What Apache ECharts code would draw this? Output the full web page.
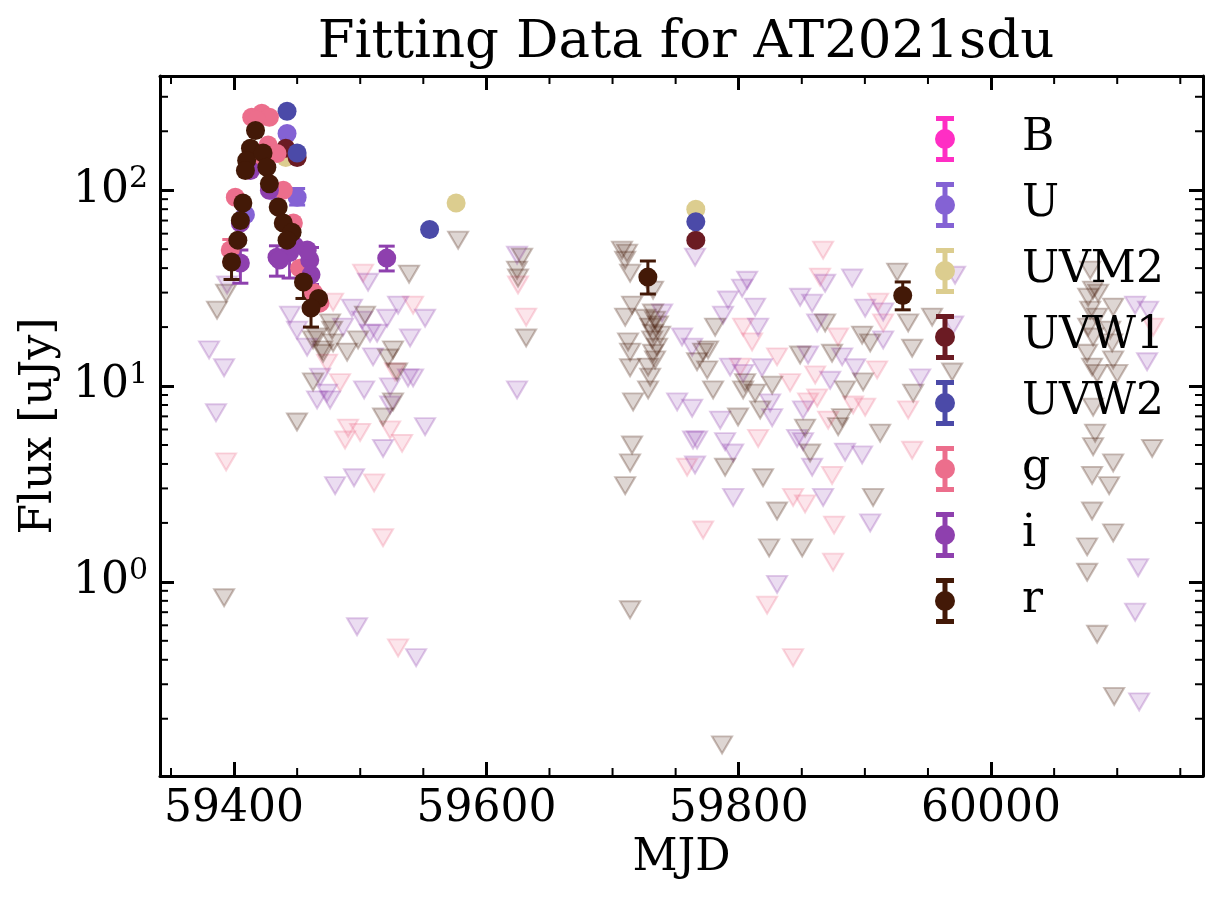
<!DOCTYPE html>
<html>
<head>
<meta charset="utf-8">
<title>Fitting Data for AT2021sdu</title>
<script src="https://cdn.jsdelivr.net/npm/echarts@6/dist/echarts.min.js"></script>
<style>
html, body { margin: 0; padding: 0; background: #fff; }
#main { width: 1224px; height: 904px; }
</style>
</head>
<body>
<div id="main"></div>
<script>
// axis ranges and tick values
var X_MIN = 59341.3, X_MAX = 60168;
var Y_MIN = 0.102, Y_MAX = 383;
var xMinorTicks = [59350, 59450, 59500, 59550, 59650, 59700, 59750, 59850, 59900, 59950, 60050, 60100, 60150];
var yMinorTicks = [0.2, 0.3, 0.4, 0.5, 0.6, 0.7, 0.8, 0.9, 2, 3, 4, 5, 6, 7, 8, 9,
                   20, 30, 40, 50, 60, 70, 80, 90, 200, 300];

var bandNames = ['B', 'U', 'UVM2', 'UVW1', 'UVW2', 'g', 'i', 'r'];

// detections [mjd, flux uJy]
var bDet = [];
var uDet = [[59442, 195], [59450, 92], [59430, 100], [59409, 75]];
var uvm2Det = [[59441, 147], [59576, 86], [59766, 80]];
var uvw1Det = [[59441, 164], [59450, 147], [59766, 55.6]];
var uvw2Det = [[59442, 253], [59450, 155], [59555, 63], [59766, 69]];
var gDet = [[59414, 236], [59422, 247], [59428, 236], [59418, 228], [59427, 170], [59434, 154],
            [59401, 92], [59439, 100], [59447, 68], [59397, 49.5], [59452, 40], [59468, 26.5],
            [59463, 30], [59420, 140]];
var iDet = [[59413, 126], [59405, 68], [59405, 42.5], [59428, 100], [59434, 45.5], [59460, 44],
            [59444, 48], [59461, 37], [59458, 49.5], [59521, 45], [59436, 44], [59448, 52]];
var rDet = [[59417, 202], [59413, 164], [59410, 142], [59409, 126], [59423, 155], [59426, 131],
            [59428, 108], [59407, 86], [59405, 70], [59403, 55.6], [59398, 43], [59435, 82],
            [59439, 68], [59446, 61], [59442, 55.6], [59455, 34], [59467, 28], [59461, 25],
            [59728, 36], [59930, 29]];

// error bars [mjd, low, high]
var bErr = [];
var uErr = [[59450, 84, 102]];
var uvm2Err = [];
var uvw1Err = [];
var uvw2Err = [];
var gErr = [[59397, 43, 56]];
var iErr = [[59405, 33.5, 49.5], [59434, 36.4, 52], [59444, 35.6, 55], [59461, 33, 51], [59521, 38.7, 51.8]];
var rErr = [[59398, 35, 50], [59455, 28, 40], [59461, 20, 32], [59728, 29.5, 43.5], [59930, 24.5, 34]];

// upper limits [mjd, flux uJy]
var gLim = [[59393.7, 4.1], [59478.5, 26.8], [59502.3, 37.7], [59541.9, 25.9], [59473.7, 13.1],
            [59484, 10.4], [59527.6, 11.8], [59490.4, 6.1], [59499.9, 5.8], [59488, 5.3],
            [59523.7, 5.97], [59533.2, 5.1], [59511, 3.2], [59518.1, 1.68], [59530, 0.46],
            [59625.1, 32.8], [59631.5, 22.5], [59866.9, 49.4], [59864.5, 36.0], [59803.5, 20.0],
            [59810.6, 16.8], [59878.8, 17.8], [59910.5, 26.8], [59914.5, 21.0], [59934.3, 7.55],
            [59937.5, 4.7], [59909.7, 12.1], [59890.7, 8.0], [59900.2, 7.8], [59870.9, 6.7],
            [59862.2, 8.7], [59855, 8.3], [59874, 3.5], [59860.6, 11.4], [59830.4, 14.1],
            [59840.7, 10.4], [59801.1, 12.5], [59815.4, 5.4], [59771.8, 1.84], [59843.1, 2.7],
            [59852.6, 2.5], [59875.6, 1.95], [59874.8, 1.26], [59822.5, 0.76], [59759.1, 3.85],
            [59843.1, 0.41], [60128.5, 20.0]];
var iLim = [[59380.2, 15.3], [59392.1, 12.4], [59385.7, 7.3], [59394.5, 32.8], [59444.4, 23.0],
            [59449.9, 19.3], [59457.9, 15.8], [59486.4, 20.0], [59493.5, 25.0], [59506.2, 33.9],
            [59507.8, 18.6], [59513.4, 18.6], [59501.5, 21.7], [59521.3, 22.2], [59530, 25.9],
            [59551.4, 22.2], [59539.5, 17.6], [59510.2, 14.1], [59468.2, 11.1], [59465.8, 8.5],
            [59476.1, 8.5], [59473.7, 9.2], [59503.1, 9.55], [59541.9, 11.0], [59537.9, 11.0],
            [59523.7, 9.9], [59523.7, 8.0], [59518.1, 4.8], [59551.4, 6.2], [59480.1, 3.1],
            [59495.1, 3.4], [59497.5, 0.59], [59544.3, 0.41], [59624.3, 46.6], [59624.3, 9.55],
            [59739.3, 23.6], [59755.1, 17.8], [59751.2, 8.3], [59763.1, 7.7], [59763.8, 5.3],
            [59765.4, 3.95], [59763.1, 15.8], [59765.4, 45.5], [59868.5, 33.5], [59889.9, 35.6],
            [59806.7, 34.7], [59802.7, 31.6], [59791.6, 27.5], [59813, 25.3], [59787.6, 23.0],
            [59815.4, 20.0], [59848.7, 28.4], [59858.2, 26.5], [59862.2, 21.0], [59900.2, 25.0],
            [59914.5, 23.9], [59914.5, 17.2], [59943.8, 11.0], [59892.3, 12.4], [59884.3, 4.6],
            [59897.8, 4.45], [59872.5, 10.7], [59851, 7.55], [59846.3, 5.4], [59851, 5.2],
            [59858.2, 3.85], [59855, 14.4], [59882, 14.1], [59793.2, 12.5], [59803.5, 11.6],
            [59818.5, 12.4], [59824.9, 8.2], [59826.5, 6.9], [59785.3, 6.7], [59767, 5.3],
            [59789.2, 5.2], [59795.6, 4.55], [59795.6, 2.7], [59866.9, 2.7], [59904.2, 2.0],
            [59830.4, 0.97], [59971.5, 36.8], [59970, 20.5], [60114.2, 25.9], [60124.5, 24.4],
            [60123.7, 13.3], [60116.6, 1.18], [60114.2, 0.70], [60117.4, 0.244]];
var rLim = [[59386.5, 24.4], [59393.7, 29.8], [59392.1, 0.83], [59449.9, 6.55], [59462.6, 17.2],
            [59469.8, 15.3], [59477.7, 19.3], [59478.5, 16.6], [59489.6, 14.9], [59498.3, 17.2],
            [59503.8, 23.0], [59538.7, 37.3], [59522.1, 13.9], [59526, 15.3], [59462.6, 10.5],
            [59529.2, 11.8], [59526, 8.3], [59518.1, 6.95], [59465.8, 17.8], [59470.6, 14.7],
            [59476.1, 21.0], [59577.6, 55.6], [59628.3, 45.5], [59624.3, 39.1], [59625.1, 35.6],
            [59631.5, 17.6], [59711.5, 47.7], [59710, 43.9], [59713.9, 37.7], [59715.5, 25.9],
            [59710, 22.5], [59712.3, 16.8], [59713.9, 14.9], [59713.9, 12.4], [59716.3, 8.3],
            [59715.5, 5.0], [59713.9, 4.05], [59710, 3.1], [59713.9, 0.72], [59732.1, 30.9],
            [59732.1, 23.6], [59733.7, 21.7], [59729.8, 20.0], [59732.1, 18.6], [59731.4, 17.2],
            [59735.3, 15.8], [59732.1, 14.7], [59733.7, 13.6], [59728.2, 12.5], [59729.8, 11.1],
            [59728.2, 9.55], [59726, 22.2], [59736, 20.5], [59737.7, 18.2], [59707.5, 49.4],
            [59781.3, 20.0], [59767, 13.3], [59771.8, 14.9], [59775.7, 15.3], [59775, 12.1],
            [59779.7, 9.55], [59789.2, 3.85], [59805.1, 10.4], [59803.5, 9.55], [59813, 9.2],
            [59799.5, 6.95], [59817, 7.55], [59826.5, 10.1], [59819.3, 3.4], [59830.4, 2.3],
            [59824.1, 1.49], [59850.3, 1.49], [59786.8, 0.147], [59848.7, 14.4], [59868.5, 21.0],
            [59874, 14.7], [59852.6, 6.1], [59856.6, 4.55], [59897.8, 18.2], [59904.2, 16.6],
            [59898.6, 10.5], [59884.3, 9.55], [59882, 6.9], [59878.8, 6.2], [59912.1, 5.75],
            [59906.5, 2.7], [59925.6, 38.2], [59934.3, 21.0], [59937.5, 15.6], [59953.3, 22.5],
            [59938.3, 9.2], [59969.2, 11.8], [60078.6, 39.1], [60080.9, 30.9], [60077, 28.4],
            [60078.6, 24.4], [60084.1, 22.5], [60077, 20.0], [60080.9, 17.8], [60076.2, 14.7],
            [60080.1, 12.5], [60084.1, 11.6], [60080.9, 7.8], [60094.4, 19.3], [60096, 16.6],
            [60096.8, 13.6], [60100, 11.6], [60096.8, 25.3], [60084.9, 29.8], [60082.5, 5.75],
            [60080.9, 4.9], [60096.8, 4.05], [60080.1, 3.5], [60093.6, 3.1], [60127.7, 4.8],
            [60080.1, 2.3], [60096.8, 1.78], [60076.2, 1.51], [60076.2, 1.12], [60084.1, 0.54],
            [60097.6, 0.26]];

var colors = {
    B: '#ff2ec4', U: '#8462d4', UVM2: '#dccd8f', UVW1: '#6b1b23',
    UVW2: '#4b4aa8', g: '#ec6e8c', i: '#8e40ae', r: '#431907'
};
var detByBand = { B: bDet, U: uDet, UVM2: uvm2Det, UVW1: uvw1Det, UVW2: uvw2Det, g: gDet, i: iDet, r: rDet };
var errByBand = { B: bErr, U: uErr, UVM2: uvm2Err, UVW1: uvw1Err, UVW2: uvw2Err, g: gErr, i: iErr, r: rErr };
var limByBand = { g: gLim, i: iLim, r: rLim };

var FONT = 'DejaVu Serif';

function rgba(hex, a) {
    var n = parseInt(hex.slice(1), 16);
    return 'rgba(' + (n >> 16) + ',' + ((n >> 8) & 255) + ',' + (n & 255) + ',' + a + ')';
}

// errorbar: vertical line with caps
function errItem(params, api) {
    var lo = api.coord([api.value(0), api.value(1)]);
    var hi = api.coord([api.value(0), api.value(2)]);
    var st = { stroke: api.visual('color'), lineWidth: 3 };
    return {
        type: 'group', children: [
            { type: 'line', shape: { x1: lo[0], y1: lo[1], x2: hi[0], y2: hi[1] }, style: st },
            { type: 'line', shape: { x1: lo[0] - 8, y1: lo[1], x2: lo[0] + 8, y2: lo[1] }, style: st },
            { type: 'line', shape: { x1: hi[0] - 8, y1: hi[1], x2: hi[0] + 8, y2: hi[1] }, style: st }
        ]
    };
}

// log minor ticks on left and right spines
function minorYItem(params, api) {
    var a = api.coord([X_MIN, api.value(1)]);
    var b = api.coord([X_MAX, api.value(1)]);
    var st = { stroke: '#000', lineWidth: 2 };
    return {
        type: 'group', children: [
            { type: 'line', shape: { x1: a[0], y1: a[1], x2: a[0] + 8, y2: a[1] }, style: st },
            { type: 'line', shape: { x1: b[0], y1: b[1], x2: b[0] - 8, y2: b[1] }, style: st }
        ]
    };
}
// minor ticks on bottom and top spines
function minorXItem(params, api) {
    var a = api.coord([api.value(0), Y_MIN]);
    var b = api.coord([api.value(0), Y_MAX]);
    var st = { stroke: '#000', lineWidth: 2 };
    return {
        type: 'group', children: [
            { type: 'line', shape: { x1: a[0], y1: a[1], x2: a[0], y2: a[1] - 8 }, style: st },
            { type: 'line', shape: { x1: b[0], y1: b[1], x2: b[0], y2: b[1] + 8 }, style: st }
        ]
    };
}

var series = [];
['g', 'i', 'r'].forEach(function (b) {
    series.push({
        name: b + ' limit', type: 'scatter', data: limByBand[b],
        symbol: 'triangle', symbolRotate: 180, symbolSize: [20, 17], z: 2,
        itemStyle: { color: rgba(colors[b], 0.22), borderColor: rgba(colors[b], 0.35), borderWidth: 2 },
        emphasis: { disabled: true }
    });
});
bandNames.forEach(function (b) {
    series.push({
        name: b, type: 'scatter', data: detByBand[b], symbol: 'circle', symbolSize: 19, z: 3,
        itemStyle: { color: colors[b], opacity: 1 }, emphasis: { disabled: true }
    });
    series.push({
        name: b, type: 'custom', data: errByBand[b], renderItem: errItem,
        encode: { x: 0, y: [1, 2] }, itemStyle: { color: colors[b] }, z: 3, clip: false
    });
});
series.push({
    type: 'custom', data: yMinorTicks.map(function (v) { return [X_MIN, v]; }),
    renderItem: minorYItem, clip: false, z: 5, silent: true
});
series.push({
    type: 'custom', data: xMinorTicks.map(function (v) { return [v, 1]; }),
    renderItem: minorXItem, clip: false, z: 5, silent: true
});

var legendIcon = 'path://M1,0h18v5h-18z M7.5,0h5v46h-5z M1,41h18v5h-18z M0,23a10,10 0 1,1 20,0a10,10 0 1,1 -20,0z';

var chart = echarts.init(document.getElementById('main'), null, { renderer: 'canvas' });
var option = {
    backgroundColor: '#fff',
    animation: false,
    title: {
        text: 'Fitting Data for AT2021sdu',
        left: 681, top: 12, textAlign: 'center',
        textStyle: { fontFamily: FONT, fontSize: 53, fontWeight: 'normal', color: '#000' }
    },
    legend: {
        data: bandNames, orient: 'vertical', left: 930, top: 111,
        icon: legendIcon, itemWidth: 20, itemHeight: 46, itemGap: 20,
        textStyle: { fontFamily: FONT, fontSize: 44, color: '#000', padding: [0, 0, 0, 62] },
        selectedMode: false
    },
    grid: { left: 160, right: 21, top: 76, bottom: 128, containLabel: false },
    xAxis: [{
        type: 'value', min: X_MIN, max: X_MAX, position: 'bottom',
        name: 'MJD', nameLocation: 'middle', nameGap: 60,
        nameTextStyle: { fontFamily: FONT, fontSize: 44, color: '#000' },
        axisLine: { onZero: false, lineStyle: { color: '#000', width: 3 } },
        axisTick: { inside: true, length: 14, lineStyle: { color: '#000', width: 3 } },
        axisLabel: {
            fontFamily: FONT, fontSize: 44, color: '#000', margin: 12,
            showMinLabel: false, showMaxLabel: false,
            formatter: function (v) { return String(Math.round(v)); }
        },
        splitLine: { show: false }
    }, {
        type: 'value', min: X_MIN, max: X_MAX, position: 'top',
        axisLine: { onZero: false, lineStyle: { color: '#000', width: 3 } },
        axisTick: { inside: true, length: 14, lineStyle: { color: '#000', width: 3 } },
        axisLabel: { show: false }, splitLine: { show: false }
    }],
    yAxis: [{
        type: 'log', min: Y_MIN, max: Y_MAX, position: 'left',
        name: 'Flux [uJy]', nameLocation: 'middle', nameGap: 95,
        nameTextStyle: { fontFamily: FONT, fontSize: 44, color: '#000' },
        axisLine: { onZero: false, lineStyle: { color: '#000', width: 3 } },
        axisTick: { inside: true, length: 14, lineStyle: { color: '#000', width: 3 } },
        axisLabel: {
            fontFamily: FONT, fontSize: 44, color: '#000', margin: 12,
            showMinLabel: false, showMaxLabel: false,
            formatter: function (v) { return '10{s|' + Math.round(Math.log10(v)) + '}'; },
            rich: { s: { fontFamily: FONT, fontSize: 30, color: '#000', verticalAlign: 'top', padding: [0, 0, 22, 0] } }
        },
        splitLine: { show: false }
    }, {
        type: 'log', min: Y_MIN, max: Y_MAX, position: 'right',
        axisLine: { onZero: false, lineStyle: { color: '#000', width: 3 } },
        axisTick: { inside: true, length: 14, lineStyle: { color: '#000', width: 3 } },
        axisLabel: { show: false }, splitLine: { show: false }
    }],
    series: series
};
chart.setOption(option);

window.onresize = function () {
    if (chart != null) {
        chart.resize();
    }
};
</script>
</body>
</html>
